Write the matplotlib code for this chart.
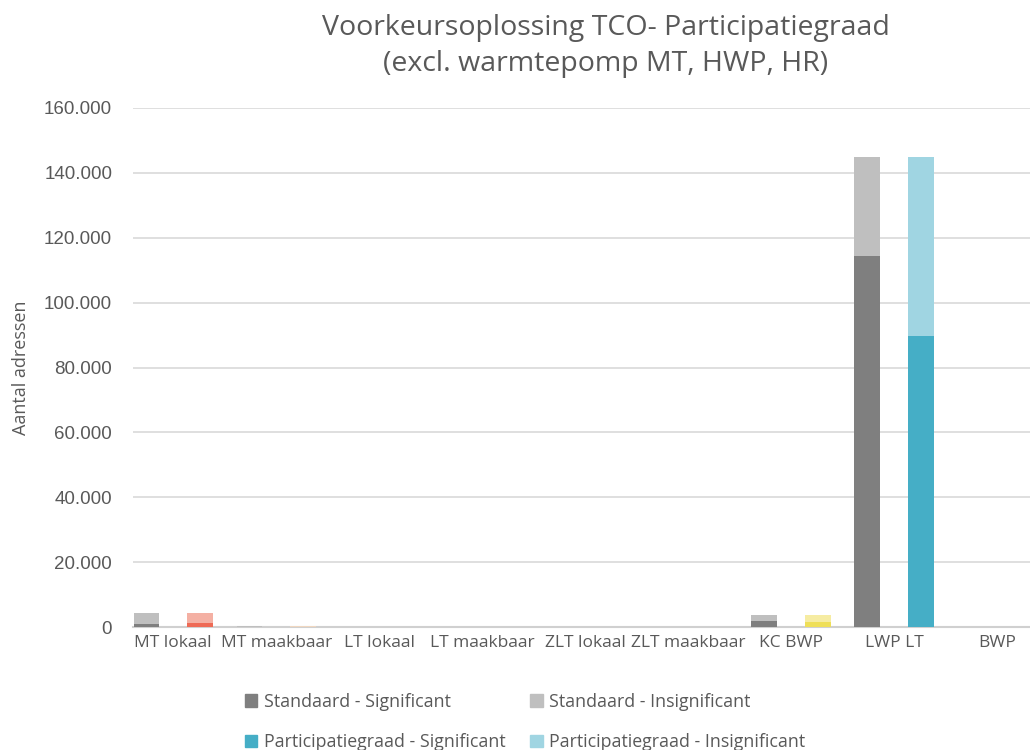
import matplotlib
matplotlib.use("Agg")
import matplotlib.pyplot as plt
import numpy as np
from matplotlib.patches import Patch
from matplotlib.ticker import FuncFormatter

categories = ["MT lokaal", "MT maakbaar", "LT lokaal", "LT maakbaar", "ZLT lokaal",
              "ZLT maakbaar", "KC BWP", "LWP LT", "BWP"]

standaard_sig = [800, 100, 0, 0, 0, 0, 1900, 114400, 0]
standaard_insig = [3400, 200, 0, 0, 0, 0, 1700, 30600, 0]
particip_sig = [1100, 100, 0, 0, 0, 0, 1600, 89700, 0]
particip_insig = [3100, 200, 0, 0, 0, 0, 2100, 55300, 0]

y_ticks = [0, 20000, 40000, 60000, 80000, 100000, 120000, 140000, 160000]

# colours of the participation bars, one pair per category (significant, insignificant)
part_dark = ["#ee6a55", "#f0d7c0", "#4caf50", "#9c27b0", "#ff9800", "#3f51b5",
             "#efdf58", "#45aec6", "#8bc34a"]
part_light = ["#f4b0a3", "#f0d7c0", "#a5d6a7", "#ce93d8", "#ffcc80", "#9fa8da",
              "#f6eca2", "#a0d5e2", "#c5e1a5"]

std_dark = "#7f7f7f"
std_light = "#bfbfbf"
leg_part_dark = "#45aec6"
leg_part_light = "#a0d5e2"
text_col = "#595959"
grid_col = "#d9d9d9"

W, H = 1030, 750
fig = plt.figure(figsize=(W / 100, H / 100), dpi=100)
ax = fig.add_axes([133 / W, (H - 627) / H, (W - 133) / W, 519 / H])

x = np.arange(len(categories))
bw = 0.25
off = 0.26

ax.bar(x - off, standaard_sig, bw, color=std_dark, zorder=3)
ax.bar(x - off, standaard_insig, bw, bottom=standaard_sig, color=std_light, zorder=3)
ax.bar(x + off, particip_sig, bw, color=part_dark, zorder=3)
ax.bar(x + off, particip_insig, bw, bottom=particip_sig, color=part_light, zorder=3)

ax.set_xlim(-0.39, 8.32)
ax.set_ylim(0, 160000)
ax.set_yticks(y_ticks)
ax.yaxis.set_major_formatter(FuncFormatter(lambda v, p: f"{int(v):,}".replace(",", ".")))
ax.set_xticks(x)
ax.set_xticklabels(categories, fontfamily="Open Sans", fontsize=12.5, color=text_col)
for lbl in ax.get_yticklabels():
    lbl.set_fontfamily("Liberation Sans")
    lbl.set_fontsize(13.5)
    lbl.set_color(text_col)

ax.tick_params(axis="both", length=0)
ax.tick_params(axis="y", pad=15)
ax.tick_params(axis="x", pad=6)
ax.grid(axis="y", color=grid_col, linewidth=1.2, zorder=0)
for s in ["top", "right", "left"]:
    ax.spines[s].set_visible(False)
ax.spines["bottom"].set_color("#d0d0d0")
ax.spines["bottom"].set_linewidth(1.5)

ax.set_ylabel("Aantal adressen", fontfamily="Open Sans", fontsize=13, color=text_col,
              labelpad=10)

fig.text(606 / W, 1 - 46 / H, "Voorkeursoplossing TCO- Participatiegraad\n(excl. warmtepomp MT, HWP, HR)",
         ha="center", va="center", fontfamily="Open Sans", fontsize=20.5, color=text_col,
         linespacing=1.4)

handles = [Patch(color=std_dark, label="Standaard - Significant"),
           Patch(color=leg_part_dark, label="Participatiegraad - Significant"),
           Patch(color=std_light, label="Standaard - Insignificant"),
           Patch(color=leg_part_light, label="Participatiegraad - Insignificant")]
leg = fig.legend(handles=handles, ncol=2, loc="center left",
                 bbox_to_anchor=(229 / W, 1 - 722 / H), frameon=False,
                 prop={"family": "Open Sans", "size": 12.8},
                 handlelength=0.7, handleheight=0.7, handletextpad=0.35,
                 columnspacing=1.4, labelspacing=1.25)
for t in leg.get_texts():
    t.set_color(text_col)

fig.savefig("out.png", dpi=100)
